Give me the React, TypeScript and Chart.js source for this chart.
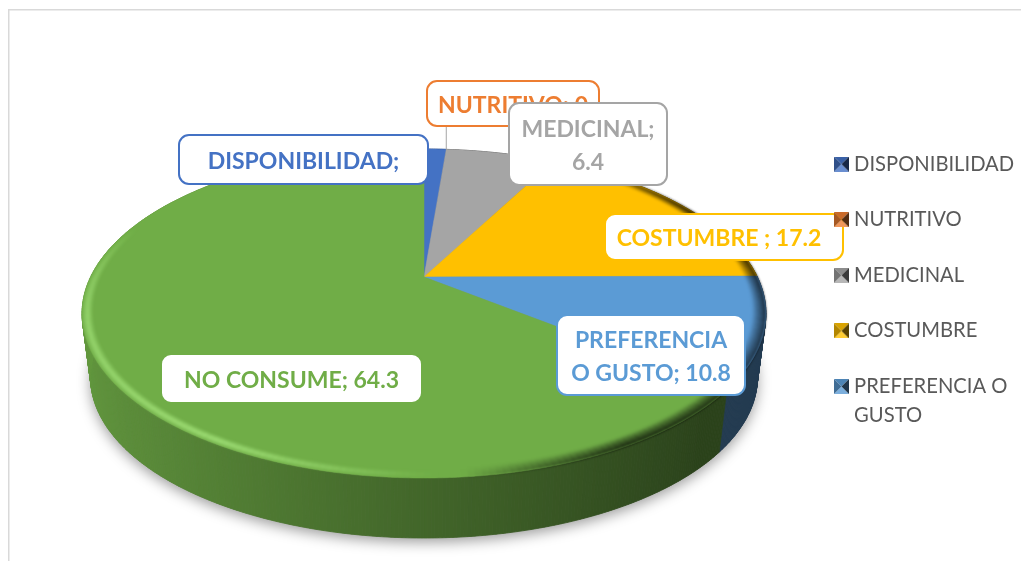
import React, { useEffect, useRef } from "react";
import { Chart, registerables } from "chart.js";

Chart.register(...registerables);

const categories = ["DISPONIBILIDAD", "NUTRITIVO", "MEDICINAL", "COSTUMBRE ", "PREFERENCIA O GUSTO", "NO CONSUME"];
const values = [1.3, 0, 6.4, 17.2, 10.8, 64.3];
const colors = ["#4472C4", "#ED7D31", "#A5A5A5", "#FFC000", "#5B9BD5", "#70AD47"];
const legendLabels: (string | string[])[] = ["DISPONIBILIDAD", "NUTRITIVO", "MEDICINAL", "COSTUMBRE", ["PREFERENCIA O", "GUSTO"]];
const labelLines = [
  ["DISPONIBILIDAD;"],
  ["NUTRITIVO; 0"],
  ["MEDICINAL;", "6.4"],
  ["COSTUMBRE ; 17.2"],
  ["PREFERENCIA", "O GUSTO; 10.8"],
  ["NO CONSUME; 64.3"],
];
// label boxes: left, top, right, bottom
const labelBoxes = [
  [179, 135, 428, 184],
  [427, 81, 599, 126],
  [509, 103, 667, 185],
  [605, 214, 843, 260],
  [557, 315, 745, 395],
  [161, 354, 422, 403],
];
const labelTextShift = [0, 0, 0, -5, 0, 0];
const labelFont = 'bold 23px Lato, sans-serif';

// perspective projection of the pie disc
const CX = 424;
const CY = 277;
const PD = 333.4;
const PA = 156.4;
const PC = -0.222;
const DEPTH = 65;
const BASE = 0.975;
const STEP = Math.PI / 360;

function project(theta: number, r = 1, scale = 1, dy = 0) {
  const u = Math.sin(theta) * r;
  const v = -Math.cos(theta) * r;
  const d = 1 + PC * v;
  return { x: CX + (scale * PD * u) / d, y: CY + dy + (scale * PA * v) / d, u, v };
}

function hexRgb(hex: string) {
  const n = parseInt(hex.slice(1), 16);
  return [(n >> 16) & 255, (n >> 8) & 255, n & 255];
}
function shade(hex: string, k: number) {
  const [r, g, b] = hexRgb(hex);
  const f = (c: number) => Math.max(0, Math.min(255, Math.round(k <= 1 ? c * k : c + (255 - c) * (k - 1))));
  return `rgb(${f(r)},${f(g)},${f(b)})`;
}
const clamp = (x: number) => Math.max(0, Math.min(1, x));

function marker(color: string) {
  const c = document.createElement("canvas");
  c.width = 15;
  c.height = 15;
  const g = c.getContext("2d")!;
  const tri = (pts: number[][], fill: string) => {
    g.fillStyle = fill;
    g.beginPath();
    pts.forEach((p, i) => (i ? g.lineTo(p[0], p[1]) : g.moveTo(p[0], p[1])));
    g.closePath();
    g.fill();
  };
  const m = [7.5, 7.5];
  tri([[0, 0], [15, 0], m], shade(color, 0.85));
  tri([[0, 15], [15, 15], m], shade(color, 1.2));
  tri([[0, 0], [0, 15], m], shade(color, 0.7));
  tri([[15, 0], [15, 15], m], shade(color, 0.35));
  return c;
}

function roundBox(ctx: CanvasRenderingContext2D, b: number[], color: string) {
  ctx.beginPath();
  ctx.roundRect(b[0], b[1], b[2] - b[0], b[3] - b[1], 10);
  ctx.fillStyle = "#ffffff";
  ctx.fill();
  ctx.lineWidth = 2;
  ctx.strokeStyle = color;
  ctx.stroke();
}

const piePlugin = {
  id: "pie3d",
  afterLayout(chart: any) {
    chart.legend.left = 803.6;
    chart.legend.top = 118.6;
  },
  beforeDatasetDraw() {
    return false;
  },
  beforeDraw(chart: any) {
    const ctx: CanvasRenderingContext2D = chart.ctx;
    const arcs = chart.getDatasetMeta(0).data;
    ctx.save();

    // frame
    ctx.fillStyle = "#ffffff";
    ctx.fillRect(0, 0, chart.width, chart.height);
    ctx.strokeStyle = "#d9d9d9";
    ctx.lineWidth = 1.5;
    ctx.beginPath();
    ctx.moveTo(8.75, chart.height);
    ctx.lineTo(8.75, 9.75);
    ctx.lineTo(chart.width, 9.75);
    ctx.stroke();

    // soft shadow beneath the base
    ctx.save();
    ctx.shadowColor = "rgba(0,0,0,0.4)";
    ctx.shadowBlur = 14;
    ctx.shadowOffsetY = 4;
    ctx.fillStyle = "#888888";
    ctx.beginPath();
    for (let t = 0; t < Math.PI * 2; t += STEP * 2) {
      const p = project(t, 1, BASE, DEPTH);
      t === 0 ? ctx.moveTo(p.x, p.y) : ctx.lineTo(p.x, p.y);
    }
    ctx.closePath();
    ctx.fill();
    ctx.restore();

    const spans = arcs.map((a: any, i: number) => ({
      s: a.startAngle + Math.PI / 2,
      e: a.endAngle + Math.PI / 2,
      color: a.options.backgroundColor || colors[i],
    }));

    // side wall
    spans.forEach(({ s, e, color }: any) => {
      for (let t = s; t < e; t += STEP) {
        const t2 = Math.min(e, t + STEP);
        const a = project(t);
        const b = project(t2);
        const c = project(t2, 1, BASE, DEPTH);
        const d = project(t, 1, BASE, DEPTH);
        const k = Math.max(0.38, 0.59 - 0.29 * a.u);
        const fill = shade(color, k);
        ctx.fillStyle = fill;
        ctx.strokeStyle = fill;
        ctx.lineWidth = 0.8;
        ctx.beginPath();
        ctx.moveTo(a.x, a.y);
        ctx.lineTo(b.x, b.y);
        ctx.lineTo(c.x, c.y);
        ctx.lineTo(d.x, d.y);
        ctx.closePath();
        ctx.fill();
        ctx.stroke();
      }
    });

    // top face
    spans.forEach(({ s, e, color }: any) => {
      if (e - s < 1e-6) return;
      ctx.beginPath();
      ctx.moveTo(CX, CY);
      for (let t = s; t < e; t += STEP) {
        const p = project(t);
        ctx.lineTo(p.x, p.y);
      }
      const last = project(e);
      ctx.lineTo(last.x, last.y);
      ctx.closePath();
      ctx.fillStyle = color;
      ctx.strokeStyle = color;
      ctx.lineWidth = 0.5;
      ctx.fill();
      ctx.stroke();
    });

    // bevel along the rim, painted aside and softened
    const off = document.createElement("canvas");
    off.width = chart.width;
    off.height = chart.height;
    const g = off.getContext("2d")!;
    const layers = [0.998, 0.993, 0.988, 0.983, 0.978, 0.973, 0.968, 0.963];
    g.lineWidth = 2.4;
    g.lineCap = "butt";
    for (let t = 0; t < Math.PI * 2; t += STEP * 2) {
      const p0 = project(t);
      const front = clamp((p0.v + 0.35) / 0.6);
      const light = 0.42 * clamp((0.05 - p0.u) / 0.55) * front;
      const dark = 0.6 * clamp((p0.u - 0.1) / 0.4) * clamp((p0.v + 0.9) / 0.5);
      layers.forEach((r) => {
        const a = project(t, r);
        const b = project(t + STEP * 2.1, r);
        let style = "";
        if (light > 0) {
          const al = light * clamp(1 - Math.abs(r - 0.985) / 0.016);
          style = `rgba(190,255,150,${al})`;
        } else if (dark > 0) {
          const al = dark * clamp((r - 0.96) / 0.04);
          style = `rgba(0,0,0,${al})`;
        }
        if (!style) return;
        g.strokeStyle = style;
        g.beginPath();
        g.moveTo(a.x, a.y);
        g.lineTo(b.x, b.y);
        g.stroke();
      });
    }
    ctx.save();
    ctx.filter = "blur(1.3px)";
    ctx.drawImage(off, 0, 0);
    ctx.restore();

    // leader line of the zero slice
    const tip = project(arcs[1].startAngle + Math.PI / 2);
    ctx.strokeStyle = "#a6a6a6";
    ctx.lineWidth = 1;
    ctx.beginPath();
    ctx.moveTo(tip.x, labelBoxes[1][3]);
    ctx.lineTo(tip.x, tip.y);
    ctx.stroke();

    // data labels
    labelLines.forEach((lines, i) => {
      const b = labelBoxes[i];
      roundBox(ctx, b, colors[i]);
      ctx.font = labelFont;
      ctx.fillStyle = colors[i];
      ctx.textAlign = "center";
      ctx.textBaseline = "middle";
      const lh = 33.5;
      const cx = (b[0] + b[2]) / 2 + labelTextShift[i];
      const cy = (b[1] + b[3]) / 2 + 2;
      lines.forEach((line, j) => {
        ctx.fillText(line, cx, cy + (j - (lines.length - 1) / 2) * lh);
      });
    });
    ctx.restore();
  },
};

export default function App() {
  const ref = useRef<HTMLCanvasElement>(null);
  useEffect(() => {
    const chart = new Chart(ref.current!, {
      type: "pie",
      data: {
        labels: categories,
        datasets: [{ data: values, backgroundColor: colors, borderWidth: 0 }],
      },
      options: {
        responsive: false,
        animation: false,
        plugins: {
          tooltip: { enabled: false },
          legend: {
            position: "right",
            align: "start",
            labels: {
              usePointStyle: true,
              pointStyleWidth: 5,
              padding: 35.4,
              color: "#595959",
              font: { family: "Lato, sans-serif", size: 20.2, lineHeight: 1.44 },
              generateLabels: () =>
                legendLabels.map((text, i) => ({
                  text,
                  pointStyle: marker(colors[i]),
                  fillStyle: colors[i],
                  strokeStyle: colors[i],
                  lineWidth: 0,
                  hidden: false,
                  index: i,
                  fontColor: "#595959",
                })),
            },
          },
        },
      } as any,
      plugins: [piePlugin as any],
    });
    return () => chart.destroy();
  }, []);
  return (
    <canvas
      ref={ref}
      width={1021}
      height={561}
      style={{ position: "fixed", left: 0, top: 0, display: "block" }}
    />
  );
}
